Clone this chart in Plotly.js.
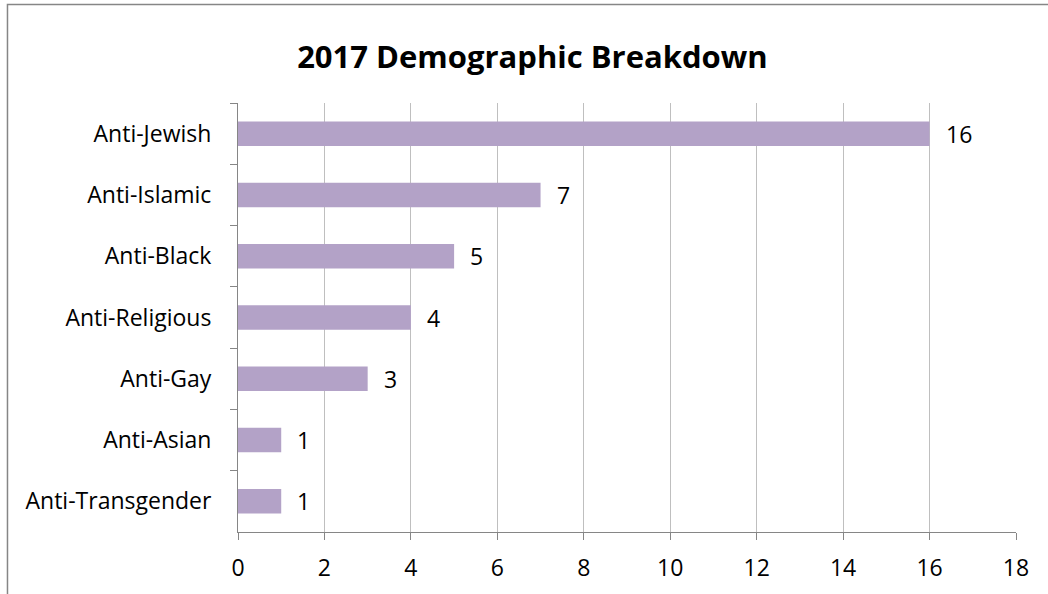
<!DOCTYPE html>
<html>
<head>
<meta charset="utf-8">
<script src="https://cdn.plot.ly/plotly-3.0.1.min.js"></script>
<style>html,body{margin:0;padding:0;background:#fff;}#chart{width:1048px;height:594px;}</style>
</head>
<body>
<div id="chart"></div>
<script>
const categories = ["Anti-Jewish", "Anti-Islamic", "Anti-Black", "Anti-Religious", "Anti-Gay", "Anti-Asian", "Anti-Transgender"];
const counts = [16, 7, 5, 4, 3, 1, 1];
const xTicks = [0, 2, 4, 6, 8, 10, 12, 14, 16, 18];
const titleText = "2017 Demographic Breakdown";

const FONT = "'Open Sans', 'Noto Sans', sans-serif";
const LABEL_SIZE = 23;

const trace = {
  type: "bar",
  orientation: "h",
  x: counts,
  y: categories,
  marker: { color: "#B3A2C7" },
  hoverinfo: "x+y"
};

const annotations = categories.map((c, i) => ({
  x: counts[i],
  y: c,
  xref: "x",
  yref: "y",
  text: String(counts[i]),
  showarrow: false,
  xanchor: "left",
  xshift: 14,
  font: { family: FONT, size: LABEL_SIZE, color: "#000" }
}));

const layout = {
  width: 1048,
  height: 594,
  margin: { l: 238, r: 32, t: 103, b: 62 },
  paper_bgcolor: "#fff",
  plot_bgcolor: "#fff",
  showlegend: false,
  bargap: 0.6,
  font: { family: FONT, color: "#000" },
  title: {
    text: "<b>" + titleText + "</b>",
    font: { family: FONT, size: 31, color: "#000" },
    x: 0.508,
    xanchor: "center",
    y: 0.903,
    yanchor: "middle"
  },
  xaxis: {
    range: [0, 18],
    tickvals: xTicks,
    ticktext: xTicks.map(String),
    showgrid: true,
    gridcolor: "#BFBFBF",
    gridwidth: 1,
    zeroline: false,
    showline: true,
    linecolor: "#868686",
    linewidth: 1,
    ticks: "outside",
    ticklen: 7,
    tickcolor: "#868686",
    ticklabelstandoff: 8,
    tickfont: { family: FONT, size: LABEL_SIZE, color: "#000" },
    fixedrange: true
  },
  yaxis: {
    type: "category",
    autorange: "reversed",
    showgrid: false,
    zeroline: false,
    showline: true,
    linecolor: "#868686",
    linewidth: 1,
    ticks: "outside",
    tickson: "boundaries",
    ticklen: 7,
    tickcolor: "#868686",
    ticklabelstandoff: 21,
    tickfont: { family: FONT, size: LABEL_SIZE, color: "#000" },
    fixedrange: true
  },
  annotations: annotations,
  shapes: [{
    type: "path",
    xref: "paper",
    yref: "paper",
    path: "M -0.2963,-0.16 L -0.2963,1.2296 L 1.05,1.2296",
    line: { color: "#868686", width: 1.5 }
  }]
};

Plotly.newPlot("chart", [trace], layout, { displayModeBar: false, staticPlot: true });
</script>
</body>
</html>
